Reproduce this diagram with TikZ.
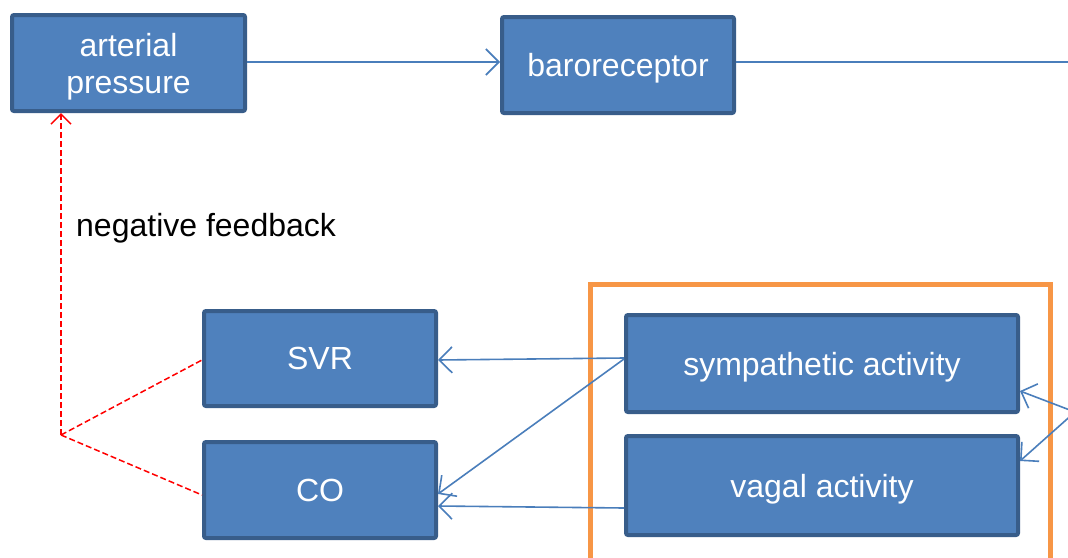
\documentclass[tikz,border=0pt]{standalone}
\usepackage{fontspec}
\setmainfont{Liberation Sans}
\usetikzlibrary{arrows.meta}
\definecolor{boxfill}{HTML}{4F81BD}
\definecolor{boxline}{HTML}{385D8A}
\definecolor{conn}{HTML}{4A7EBB}
\definecolor{orng}{HTML}{F79646}
\tikzset{
  box/.style={draw=boxline, fill=boxfill, line width=4pt, rounded corners=2pt,
    text=white, font=\fontsize{32}{37}\selectfont, align=center, inner sep=0pt, text depth=0pt},
  conn/.style={draw=conn, line width=1.6pt, -{Straight Barb[length=13pt,width=26pt,line width=1.6pt]}},
  plainconn/.style={draw=conn, line width=1.6pt},
  fb/.style={draw=red, line width=1.5pt, dash pattern=on 6pt off 3pt},
}
\begin{document}
\begin{tikzpicture}[x=1pt,y=-1pt]
\useasboundingbox (0,0) rectangle (1068,557);
\fill[white] (0,0) rectangle (1068,557);
\begin{scope}
\clip (0,0) rectangle (1068,557);
\draw[orng, line width=5pt] (590,570) -- (590,284) -- (1050,284) -- (1050,570);
\node[box, minimum width=233pt, minimum height=96pt] (ap) at (128.5,63) {arterial\\pressure};
\node[box, minimum width=232pt, minimum height=96pt] (baro) at (618,65) {baroreceptor};
\node[box, minimum width=232pt, minimum height=95pt] (svr) at (320,358.5) {SVR};
\node[box, minimum width=232pt, minimum height=96pt] (co) at (320,490) {CO};
\node[box, minimum width=392pt, minimum height=97pt] (sym) at (822,363.5) {sympathetic activity};
\node[box, minimum width=392pt, minimum height=99pt] (vag) at (822,485.5) {vagal activity};
\node[font=\fontsize{32}{37}\selectfont, anchor=west, inner sep=0pt] (nf) at (76,228) {negative feedback};
\coordinate (bout) at (1075,62);
\coordinate (rin) at (1075,412);
\coordinate (junc) at (61,435);
\draw[conn] (ap.east |- 0,62) -- (baro.west |- 0,62);
\draw[plainconn] (baro.east |- 0,62) -- (bout);
\draw[conn] (rin) -- (sym.east |- 0,391);
\draw[conn] (rin) -- (vag.east |- 0,461);
\draw[conn] (sym.west |- 0,358) -- (svr.east |- 0,360);
\draw[conn] (sym.west |- 0,359) -- (co.east |- 0,494);
\draw[conn] (vag.west |- 0,508) -- (co.east |- 0,506);
\draw[fb, -{Straight Barb[length=10pt,width=20pt,line width=1.5pt]}] (junc) -- (junc |- ap.south);
\draw[fb] (junc) -- (svr.west |- 0,360);
\draw[fb] (junc) -- (co.west |- 0,495);
\end{scope}
\end{tikzpicture}
\end{document}
